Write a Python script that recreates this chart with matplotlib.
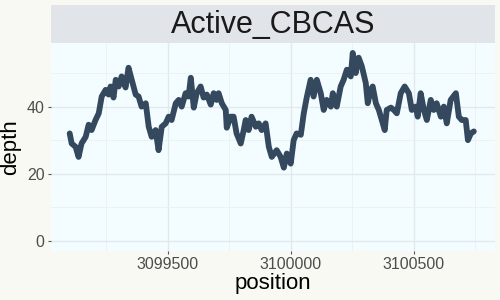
import matplotlib
matplotlib.use("Agg")
import matplotlib.pyplot as plt
from matplotlib.ticker import MultipleLocator, FixedLocator

# coverage trace (position, depth)
position = [3099102, 3099110, 3099126, 3099138, 3099150, 3099167, 3099179, 3099191,
            3099207, 3099220, 3099232, 3099248, 3099260, 3099268, 3099280, 3099289,
            3099301, 3099313, 3099329, 3099341, 3099354, 3099370, 3099382, 3099394,
            3099411, 3099423, 3099435, 3099451, 3099463, 3099476, 3099492, 3099504,
            3099516, 3099533, 3099545, 3099557, 3099573, 3099585, 3099594, 3099606,
            3099618, 3099634, 3099646, 3099659, 3099675, 3099687, 3099699, 3099707,
            3099720, 3099736, 3099740, 3099756, 3099768, 3099780, 3099797, 3099809,
            3099817, 3099829, 3099841, 3099858, 3099870, 3099882, 3099898, 3099911,
            3099923, 3099943, 3099959, 3099972, 3099984, 3100000, 3100012, 3100024,
            3100041, 3100053, 3100065, 3100081, 3100093, 3100106, 3100122, 3100134,
            3100146, 3100163, 3100171, 3100187, 3100203, 3100215, 3100228, 3100244,
            3100252, 3100264, 3100276, 3100289, 3100305, 3100313, 3100325, 3100333,
            3100346, 3100358, 3100370, 3100382, 3100390, 3100407, 3100419, 3100431,
            3100447, 3100463, 3100480, 3100492, 3100508, 3100516, 3100528, 3100541,
            3100553, 3100569, 3100581, 3100593, 3100610, 3100622, 3100634, 3100650,
            3100671, 3100683, 3100695, 3100711, 3100720, 3100732, 3100744]
depth = [32, 29, 28, 25, 29, 31, 34.6, 33,
         36, 38, 43, 45, 43.6, 46, 42.7, 48,
         46, 49, 45.7, 51.6, 48, 43.6, 43, 40,
         41, 34, 31, 33, 27, 34, 35, 37,
         36, 41, 42, 40, 44, 43, 48.6, 39.7,
         44, 46, 42.7, 43.6, 40.6, 44, 42, 44,
         41, 39, 33.7, 37, 37, 32, 29, 33,
         36, 33, 37, 34, 35, 33, 35, 28,
         25, 27, 25, 21.8, 26, 23, 30, 32,
         31.6, 38, 42.7, 48, 43, 48, 44, 39,
         42, 40, 44, 40, 46, 48, 51, 49,
         56, 50, 54.6, 52, 47, 41, 45, 46,
         41, 39, 36, 33, 39, 39.7, 39, 38,
         44, 46, 44, 39, 40, 37, 44, 39,
         36, 42, 39, 41, 37, 40, 35, 42,
         44, 37, 36, 36, 30, 32, 32.6]

plt.rcParams["font.family"] = ["Liberation Sans", "DejaVu Sans"]
fig = plt.figure(figsize=(5, 3), dpi=100)
fig.patch.set_facecolor("#F9F9F4")

ax = fig.add_axes([0.102, 0.164, 0.888, 0.693])
ax.set_facecolor("#F3FDFF")
ax.plot(position, depth, color="#34495E", lw=4.2, solid_capstyle="round",
        solid_joinstyle="round")

ax.set_xlim(3099026, 3100830)
ax.set_ylim(-3, 59)
ax.xaxis.set_major_locator(FixedLocator([3099500, 3100000, 3100500]))
ax.xaxis.set_minor_locator(FixedLocator([3099250, 3099750, 3100250, 3100750]))
ax.yaxis.set_major_locator(MultipleLocator(20))
ax.yaxis.set_minor_locator(MultipleLocator(10))
ax.ticklabel_format(axis="x", style="plain", useOffset=False)
ax.grid(which="major", color="#E2E9EC", lw=1.0)
ax.grid(which="minor", color="#EAF1F3", lw=0.6)
ax.set_axisbelow(True)
for s in ax.spines.values():
    s.set_visible(False)
ax.tick_params(which="major", length=2.5, width=0.8, color="#555555",
               labelsize=11.5, labelcolor="#4D4D4D", pad=2)
ax.tick_params(which="minor", length=0)
ax.set_xlabel("position", fontsize=16, color="black", labelpad=1)
ax.set_ylabel("depth", fontsize=16, color="black")
ax.yaxis.set_label_coords(-0.068, 0.5)

strip = fig.add_axes([0.102, 0.858, 0.888, 0.125])
strip.set_facecolor("#E1E4E8")
strip.set_xticks([])
strip.set_yticks([])
for s in strip.spines.values():
    s.set_visible(False)
strip.text(0.5, 0.47, "Active_CBCAS", ha="center", va="center",
           fontsize=22, color="#1A1A1A", transform=strip.transAxes)

fig.savefig("out.png", dpi=100, facecolor=fig.get_facecolor())
